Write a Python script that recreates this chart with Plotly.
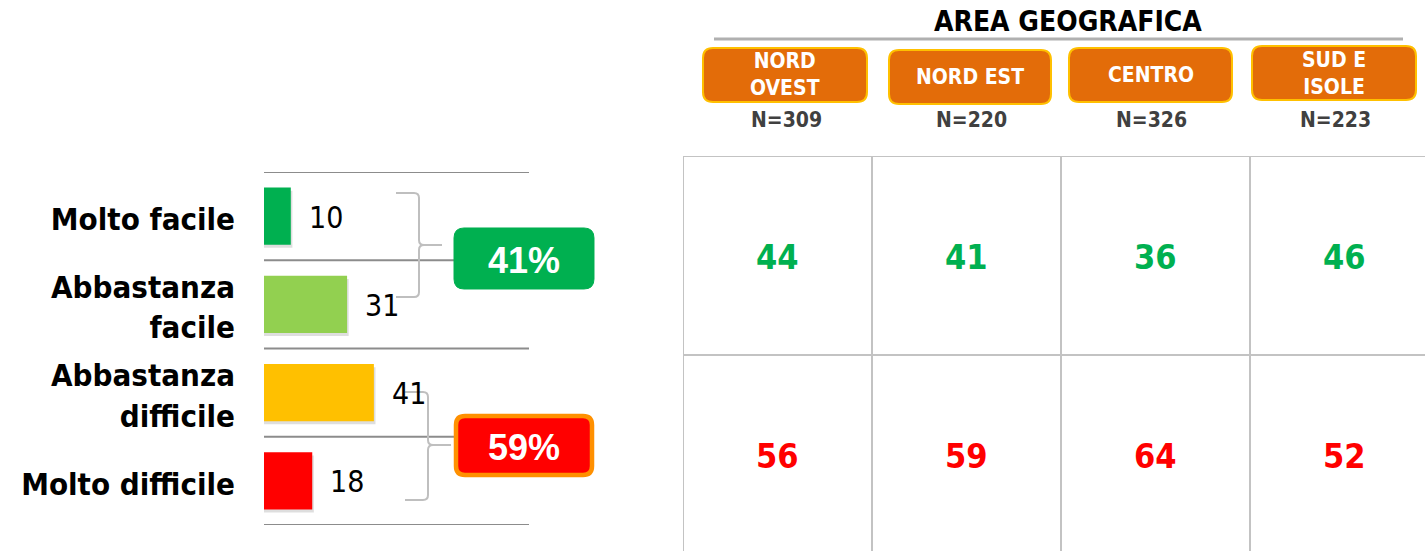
import plotly.graph_objects as go

# ---------------- DATA ----------------
categories = ["Molto facile", "Abbastanza<br>facile", "Abbastanza<br>difficile", "Molto difficile"]
values = [10, 31, 41, 18]
bar_colors = ["#00B050", "#92D050", "#FFC000", "#FF0000"]

group_labels = ["41%", "59%"]

regions = ["NORD<br>OVEST", "NORD EST", "CENTRO", "SUD E<br>ISOLE"]
sample_n = ["N=309", "N=220", "N=326", "N=223"]
facile_pct = [44, 41, 36, 46]
difficile_pct = [56, 59, 64, 52]

# ---------------- LAYOUT HELPERS ----------------
W, H = 1425, 551
FONT = "DejaVu Sans Condensed, DejaVu Sans, sans-serif"
FONT_PCT = "Liberation Sans, Arial, sans-serif"


def PX(x):
    return x / W


def PY(y):
    return 1 - y / H


def P(x, y):
    return f"{PX(x):.5f},{PY(y):.5f}"


def rrect(x0, y0, x1, y1, r):
    return (f"M {P(x0 + r, y0)} L {P(x1 - r, y0)} Q {P(x1, y0)} {P(x1, y0 + r)} "
            f"L {P(x1, y1 - r)} Q {P(x1, y1)} {P(x1 - r, y1)} L {P(x0 + r, y1)} "
            f"Q {P(x0, y1)} {P(x0, y1 - r)} L {P(x0, y0 + r)} Q {P(x0, y0)} {P(x0 + r, y0)} Z")


def brace(xl, xv, xt, yt, ym, yb, r=5):
    return (f"M {P(xl, yt)} L {P(xv - r, yt)} Q {P(xv, yt)} {P(xv, yt + r)} "
            f"L {P(xv, ym - r)} Q {P(xv, ym)} {P(xv + r, ym)} L {P(xt, ym)} "
            f"M {P(xv + r, ym)} Q {P(xv, ym)} {P(xv, ym + r)} "
            f"L {P(xv, yb - r)} Q {P(xv, yb)} {P(xv - r, yb)} L {P(xl, yb)}")


fig = go.Figure()

# shadow bars
fig.add_trace(go.Bar(
    x=[v + 0.6 for v in values], y=categories, orientation="h",
    marker=dict(color="rgba(0,0,0,0.13)", line=dict(width=0)),
    width=0.646, offset=-0.323 + 0.035, hoverinfo="skip", showlegend=False,
    xaxis="x", yaxis="y"))
# main bars
fig.add_trace(go.Bar(
    x=values, y=categories, orientation="h",
    marker=dict(color=bar_colors, line=dict(width=0)),
    width=0.646, offset=-0.323, showlegend=False, xaxis="x", yaxis="y"))

# table cells (invisible anchor points on the table axes; text drawn as annotations)
cols = list(range(len(regions)))
fig.add_trace(go.Scatter(
    x=cols + cols, y=[0] * len(cols) + [1] * len(cols), mode="markers",
    marker=dict(opacity=0), xaxis="x2", yaxis="y2", showlegend=False, hoverinfo="skip"))

shapes = []
annotations = []

for row, (vals, col) in enumerate([(facile_pct, "#00B050"), (difficile_pct, "#FF0000")]):
    for c, v in zip(cols, vals):
        annotations.append(dict(x=c, y=row, xref="x2", yref="y2", text=str(v), showarrow=False,
                                xanchor="center", yanchor="middle", yshift=-1,
                                font=dict(family=FONT, size=34, color=col, weight="bold")))

# horizontal separator lines of the bar panel
for b in [-0.5, 0.5, 1.5, 2.5, 3.5]:
    x1 = PX(456) if b in (0.5, 2.5) else PX(529)
    shapes.append(dict(type="line", xref="paper", yref="y", x0=PX(264), x1=x1, y0=b, y1=b,
                       line=dict(color="#8C8C8C", width=2), layer="below"))

# value labels next to bars
for c, v in zip(categories, values):
    annotations.append(dict(x=v, y=c, xref="x", yref="y", text=str(v), showarrow=False,
                            xanchor="left", xshift=16, yshift=-1,
                            font=dict(family=FONT, size=30, color="#000000")))

# braces
shapes.append(dict(type="path", xref="paper", yref="paper",
                   path=brace(396, 419, 442, 193, 245, 297),
                   line=dict(color="#BFBFBF", width=2)))
shapes.append(dict(type="path", xref="paper", yref="paper",
                   path=brace(405, 428, 451, 392, 445, 500),
                   line=dict(color="#BFBFBF", width=2)))

# group summary boxes
shapes.append(dict(type="path", xref="paper", yref="paper", path=rrect(454, 228, 594, 289, 10),
                   fillcolor="#00B050", line=dict(color="#00B050", width=1)))
shapes.append(dict(type="path", xref="paper", yref="paper", path=rrect(456, 416, 592, 475, 9),
                   fillcolor="#FF0000", line=dict(color="#FF9000", width=4.5)))
for lbl, (cx, cy) in zip(group_labels, [(524, 260), (524, 447)]):
    annotations.append(dict(x=PX(cx), y=PY(cy), xref="paper", yref="paper", text=lbl,
                            showarrow=False, xanchor="center", yanchor="middle",
                            font=dict(family=FONT_PCT, size=36, color="#FFFFFF", weight="bold")))

# header title + underline
annotations.append(dict(x=PX(1068), y=PY(22), xref="paper", yref="paper", text="AREA GEOGRAFICA",
                        showarrow=False, xanchor="center", yanchor="middle",
                        font=dict(family=FONT, size=28, color="#000000", weight="bold")))
shapes.append(dict(type="line", xref="paper", yref="paper", x0=PX(714), x1=PX(1403),
                   y0=PY(39), y1=PY(39), line=dict(color="#B0B0B0", width=3)))

# header boxes
header_boxes_px = [(703, 48, 867, 102), (889, 50, 1051, 104), (1069, 48, 1232, 102), (1252, 46, 1416, 100)]
for reg, n, (x0, y0, x1, y1) in zip(regions, sample_n, header_boxes_px):
    shapes.append(dict(type="path", xref="paper", yref="paper", path=rrect(x0, y0, x1, y1, 10),
                       fillcolor="#E36C09", line=dict(color="#FFC000", width=2)))
    annotations.append(dict(x=PX((x0 + x1) / 2), y=PY((y0 + y1) / 2), xref="paper", yref="paper",
                            text=reg, showarrow=False, xanchor="center", yanchor="middle",
                            font=dict(family=FONT, size=21, color="#FFFFFF", weight="bold")))
    annotations.append(dict(x=PX((x0 + x1) / 2 + 1), y=PY(120), xref="paper", yref="paper",
                            text=n, showarrow=False, xanchor="center", yanchor="middle",
                            font=dict(family=FONT, size=21, color="#404040", weight="bold")))

# table grid
TX_MAX = -0.5 + (W - 683) / 189
TY_MAX = -0.5 + (H - 156) / 199
for b in [-0.5, 0.5, 1.5, 2.5]:
    shapes.append(dict(type="line", xref="x2", yref="y2", x0=b, x1=b, y0=-0.5, y1=TY_MAX,
                       line=dict(color="#C3C3C3", width=2)))
for b in [-0.5, 0.5]:
    shapes.append(dict(type="line", xref="x2", yref="y2", x0=-0.5, x1=TX_MAX, y0=b, y1=b,
                       line=dict(color="#C3C3C3", width=2)))

fig.update_layout(
    width=W, height=H, margin=dict(l=0, r=0, t=0, b=0),
    paper_bgcolor="#FFFFFF", plot_bgcolor="rgba(0,0,0,0)",
    barmode="overlay", showlegend=False,
    xaxis=dict(domain=[PX(264), PX(529)], range=[0, 265 / 2.68], visible=False, fixedrange=True),
    yaxis=dict(domain=[PY(525), PY(172)], type="category", categoryorder="array",
               categoryarray=categories, range=[3.5, -0.5], showgrid=False, zeroline=False,
               showline=False, ticks="", ticklabelstandoff=28, ticklabelshift=-3,
               tickfont=dict(family=FONT, size=31, color="#000000", weight="bold")),
    xaxis2=dict(domain=[PX(683), 1], range=[-0.5, TX_MAX], visible=False, anchor="y2"),
    yaxis2=dict(domain=[0, PY(156)], range=[TY_MAX, -0.5], visible=False, anchor="x2"),
    shapes=shapes, annotations=annotations,
)

fig.write_html(
    "out.html",
    config={"displayModeBar": False},
    post_script="document.body.style.margin='0';document.body.style.overflow='hidden';",
)
